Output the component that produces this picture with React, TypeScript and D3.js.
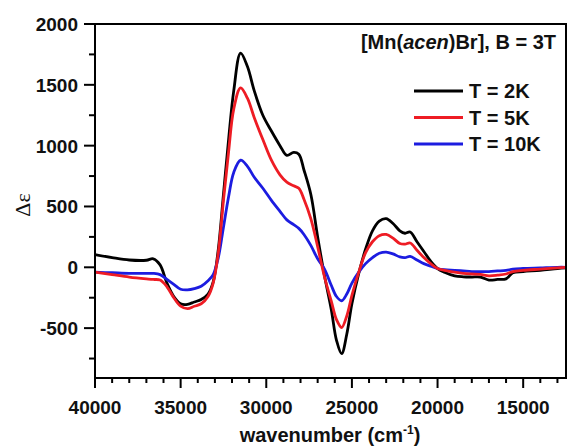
import React from "react";
import * as d3 from "d3";

const wavenumbers = [40000, 39000, 38000, 37000, 36600, 36200, 35800, 35400, 35000, 34600, 34200, 33800, 33400, 33100, 32800, 32500, 32200, 31900, 31500, 31100, 30700, 30200, 29700, 29200, 28800, 28400, 28100, 27800, 27400, 27000, 26600, 26200, 25900, 25600, 25300, 25000, 24600, 24200, 23800, 23400, 23000, 22600, 22200, 21900, 21600, 21200, 20800, 20400, 20000, 19600, 19000, 18500, 18000, 17500, 17000, 16500, 16000, 15600, 15000, 14000, 13000, 12500];

const series2K = [105, 80, 60, 58, 70, 20, -130, -240, -300, -305, -285, -265, -220, -120, 150, 600, 1050, 1450, 1760, 1650, 1450, 1250, 1120, 1000, 920, 945, 930, 800, 600, 250, -70, -350, -600, -710, -550, -300, -50, 150, 300, 380, 400, 360, 300, 280, 290, 210, 130, 50, -10, -40, -70, -78, -80, -80, -105, -100, -95, -45, -35, -25, -10, -5];

const series5K = [-40, -60, -80, -95, -100, -105, -160, -250, -320, -340, -320, -300, -240, -130, 120, 550, 950, 1300, 1475, 1390, 1230, 1050, 880, 760, 700, 670, 650, 560, 400, 170, -80, -280, -430, -495, -400, -230, -40, 120, 210, 260, 270, 240, 195, 190, 200, 140, 80, 30, -10, -25, -40, -50, -55, -58, -70, -65, -55, -35, -25, -15, -5, 0];

const series10K = [-40, -45, -50, -50, -50, -60, -100, -140, -180, -185, -175, -155, -110, -60, 80, 330, 580, 780, 880, 830, 740, 650, 550, 460, 390, 350, 320, 270, 180, 70, -15, -150, -240, -275, -220, -130, -40, 30, 80, 115, 125, 110, 85, 80, 90, 60, 30, 10, -10, -20, -25, -30, -35, -35, -35, -30, -25, -15, -10, -5, 0, 0];

const seriesLabels = ["T = 2K", "T = 5K", "T = 10K"];
const seriesColors = ["#000000", "#ee1c24", "#1c1ce0"];

const xMajorTicks = [40000, 35000, 30000, 25000, 20000, 15000];
const yMajorTicks = [-500, 0, 500, 1000, 1500, 2000];

const W = 569;
const H = 446;
const left = 95;
const right = 566;
const top = 24;
const bottom = 378;

export default function App() {
  const x = d3.scaleLinear().domain([40000, 12500]).range([left, right]);
  const y = d3.scaleLinear().domain([-910, 2000]).range([bottom, top]);

  const xMinor = d3.range(13000, 40001, 1000).filter((v) => v % 5000 !== 0);
  const yMinor = d3.range(-750, 2001, 250).filter((v) => v % 500 !== 0);

  const line = d3
    .line<[number, number]>()
    .x((d) => x(d[0]))
    .y((d) => y(d[1]))
    .curve(d3.curveCatmullRom.alpha(0.5));

  const allSeries = [series2K, series5K, series10K];
  const drawOrder = [0, 2, 1];

  const font = "'Liberation Sans', Arial, sans-serif";

  return (
    <svg
      width={W}
      height={H}
      style={{ position: "absolute", left: 0, top: 0, background: "#fff" }}
      fontFamily={font}
    >
      <rect x={0} y={0} width={W} height={H} fill="#fff" />
      <g fill="none" strokeWidth={2.8} strokeLinejoin="round">
        {drawOrder.map((i) => (
          <path
            key={i}
            d={line(wavenumbers.map((w, k) => [w, allSeries[i][k]]) as [number, number][]) || ""}
            stroke={seriesColors[i]}
          />
        ))}
      </g>
      <rect
        x={left}
        y={top}
        width={right - left}
        height={bottom - top}
        fill="none"
        stroke="#000"
        strokeWidth={2}
      />
      <g stroke="#000" strokeWidth={2}>
        {xMajorTicks.map((v) => (
          <line key={"xM" + v} x1={x(v)} x2={x(v)} y1={bottom} y2={bottom + 10} />
        ))}
        {xMinor.map((v) => (
          <line key={"xm" + v} x1={x(v)} x2={x(v)} y1={bottom} y2={bottom + 5} />
        ))}
        {yMajorTicks.map((v) => (
          <line key={"yM" + v} x1={left} x2={left - 11} y1={y(v)} y2={y(v)} />
        ))}
        {yMinor.map((v) => (
          <line key={"ym" + v} x1={left} x2={left - 6} y1={y(v)} y2={y(v)} />
        ))}
      </g>
      <g fontSize={19} fontWeight="bold" textAnchor="middle" fill="#111">
        {xMajorTicks.map((v) => (
          <text key={"xl" + v} x={x(v)} y={414}>
            {v}
          </text>
        ))}
      </g>
      <g fontSize={19} fontWeight="bold" textAnchor="end" fill="#111">
        {yMajorTicks.map((v) => (
          <text key={"yl" + v} x={78} y={y(v) + 7}>
            {v}
          </text>
        ))}
      </g>
      <text x={330} y={442} fontSize={20} fontWeight="bold" textAnchor="middle" fill="#111">
        wavenumber (cm
        <tspan fontSize={12} dy={-8}>-1</tspan>
        <tspan dy={8}>)</tspan>
      </text>
      <text
        transform="translate(30,205) rotate(-90)"
        fontSize={22}
        textAnchor="middle"
        fontFamily="'Liberation Serif', 'Times New Roman', serif"
        fill="#111"
      >
        Δε
      </text>
      <text x={556} y={49} fontSize={20} fontWeight="bold" textAnchor="end" fill="#111">
        [Mn(<tspan fontStyle="italic">acen</tspan>)Br], B = 3T
      </text>
      {seriesLabels.map((lab, i) => {
        const ly = 91 + i * 26.5;
        return (
          <g key={lab}>
            <line x1={414} x2={463} y1={ly} y2={ly} stroke={seriesColors[i]} strokeWidth={3} />
            <text x={469} y={ly + 7} fontSize={20} fontWeight="bold" fill="#111">
              {lab}
            </text>
          </g>
        );
      })}
    </svg>
  );
}
